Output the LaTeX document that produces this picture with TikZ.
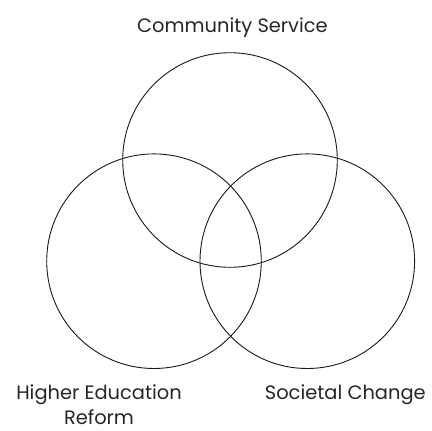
\documentclass[tikz,border=0pt]{standalone}
\usepackage{fontspec}
\setmainfont{Poppins}
\begin{document}
\begin{tikzpicture}[x=1bp,y=-1bp,
  ring/.style={draw=black!90,line width=0.9bp,circle,minimum size=214.6bp,inner sep=0pt},
  lbl/.style={font=\fontsize{19.5}{23}\selectfont,text=black!85,inner sep=0pt}]
\useasboundingbox (0,0) rectangle (432,431);
\node[ring] (cs) at (230,160) {};
\node[ring] (he) at (154,261.2) {};
\node[ring] (sc) at (307.3,261.2) {};
\node[lbl,anchor=base] (tcs) at (232.5,32) {Community Service};
\node[lbl,anchor=base] (the) at (99,399) {Higher Education};
\node[lbl,anchor=base] (the2) at (99,424) {Reform};
\node[lbl,anchor=base] (tsc) at (345.3,399) {Societal Change};
\end{tikzpicture}
\end{document}
